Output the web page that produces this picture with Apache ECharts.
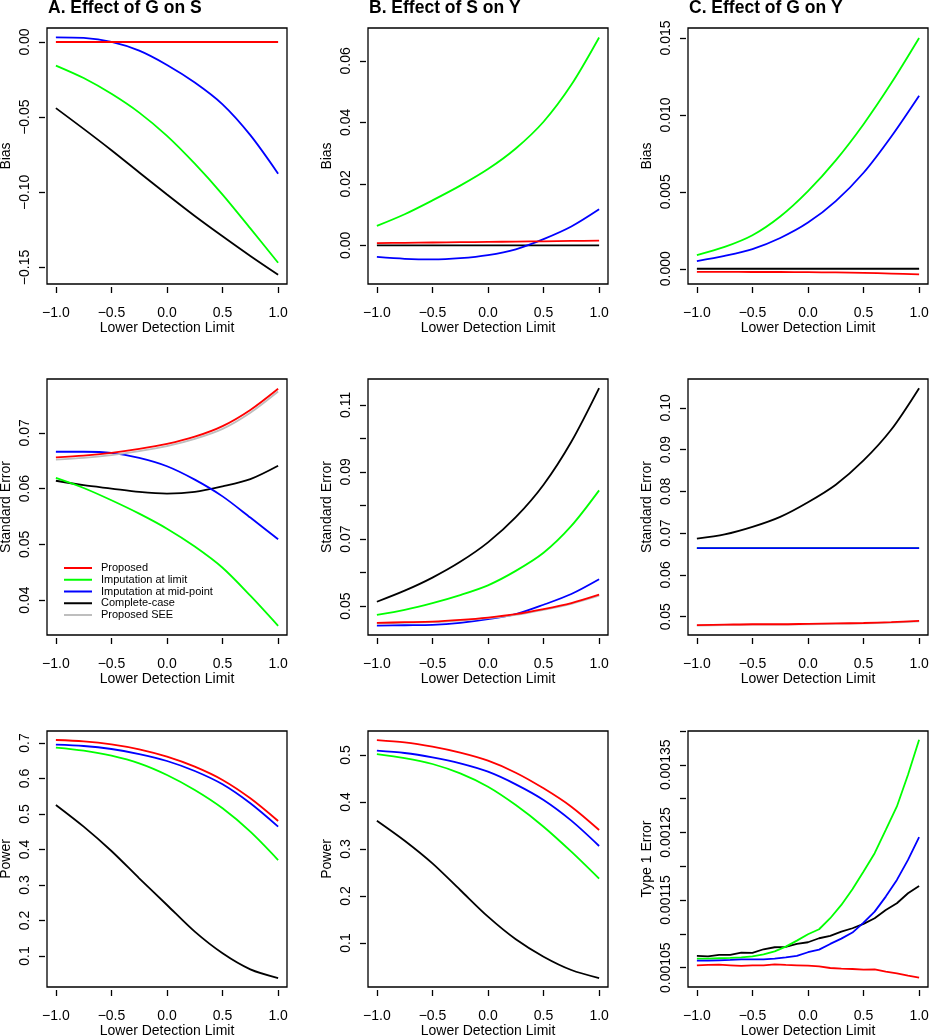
<!DOCTYPE html>
<html>
<head>
<meta charset="utf-8">
<script src="https://cdn.jsdelivr.net/npm/echarts@6/dist/echarts.min.js"></script>
<style>
html,body{margin:0;padding:0;background:#fff;}
#c{width:929px;height:1035px;}
</style>
</head>
<body>
<div id="c"></div>
<script>
// ---------------- data ----------------
const xs = [-1, -0.75, -0.5, -0.25, 0, 0.25, 0.5, 0.75, 1];
const xs21 = [-1.0, -0.9, -0.8, -0.7, -0.6, -0.5, -0.4, -0.3, -0.2, -0.1, 0.0, 0.1, 0.2, 0.3, 0.4, 0.5, 0.6, 0.7, 0.8, 0.9, 1.0];
const xTicks = [-1, -0.5, 0, 0.5, 1];
const xTickLabels = ['\u22121.0', '\u22120.5', '0.0', '0.5', '1.0'];

const seriesNames = ['Proposed', 'Imputation at limit', 'Imputation at mid-point', 'Complete-case', 'Proposed SEE'];
const panelTitles = ['A. Effect of G on S', 'B. Effect of S on Y', 'C. Effect of G on Y'];

// Row 1: Bias
const biasGS_proposed = [0, 0, 0, 0, 0, 0, 0, 0, 0];
const biasGS_limit    = [-0.0157, -0.0240, -0.0345, -0.0470, -0.0625, -0.0810, -0.1015, -0.1240, -0.1469];
const biasGS_mid      = [0.0031, 0.0027, 0.0000, -0.0058, -0.0153, -0.0270, -0.0415, -0.0620, -0.0876];
const biasGS_cc       = [-0.0440, -0.0578, -0.0720, -0.0868, -0.1015, -0.1158, -0.1293, -0.1424, -0.1549];

const biasSY_proposed = [0.0007, 0.0008, 0.0009, 0.0010, 0.0011, 0.0012, 0.0013, 0.0014, 0.0015];
const biasSY_limit    = [0.0063, 0.0101, 0.0146, 0.0194, 0.0248, 0.0315, 0.0402, 0.0522, 0.0676];
const biasSY_mid      = [-0.0038, -0.0044, -0.0046, -0.0042, -0.0032, -0.0013, 0.0020, 0.0061, 0.0117];
const biasSY_cc       = [0, 0, 0, 0, 0, 0, 0, 0, 0];

const biasGY_proposed = [-0.00020, -0.00020, -0.00021, -0.00021, -0.00022, -0.00024, -0.00027, -0.00031, -0.00036];
const biasGY_limit    = [0.00089, 0.00142, 0.00218, 0.00340, 0.00505, 0.00705, 0.00940, 0.01207, 0.01500];
const biasGY_mid      = [0.00050, 0.00084, 0.00128, 0.00200, 0.00300, 0.00440, 0.00624, 0.00860, 0.01125];
const biasGY_cc       = [0, 0, 0, 0, 0, 0, 0, 0, 0];

// Row 2: Standard error
const seGS_proposed = [0.0656, 0.0659, 0.0664, 0.0671, 0.0680, 0.0693, 0.0712, 0.0741, 0.0779];
const seGS_limit    = [0.0619, 0.0601, 0.0579, 0.0555, 0.0528, 0.0496, 0.0458, 0.0408, 0.0354];
const seGS_mid      = [0.0666, 0.0666, 0.0664, 0.0655, 0.0640, 0.0616, 0.0586, 0.0548, 0.0509];
const seGS_cc       = [0.0614, 0.0606, 0.0600, 0.0594, 0.0591, 0.0594, 0.0604, 0.0617, 0.0641];
const seGS_see      = [0.0652, 0.0655, 0.0660, 0.0667, 0.0676, 0.0689, 0.0707, 0.0736, 0.0774];

const seSY_proposed = [0.0450, 0.0452, 0.0454, 0.0459, 0.0466, 0.0476, 0.0491, 0.0509, 0.0534];
const seSY_limit    = [0.0474, 0.0489, 0.0509, 0.0533, 0.0562, 0.0605, 0.0659, 0.0739, 0.0845];
const seSY_mid      = [0.0442, 0.0443, 0.0444, 0.0450, 0.0461, 0.0476, 0.0504, 0.0536, 0.0580];
const seSY_cc       = [0.0513, 0.0546, 0.0585, 0.0632, 0.0690, 0.0765, 0.0862, 0.0990, 0.1150];
const seSY_see      = [0.0448, 0.0450, 0.0452, 0.0457, 0.0464, 0.0474, 0.0489, 0.0507, 0.0531];

const seGY_proposed = [0.0480, 0.0481, 0.0482, 0.0482, 0.0483, 0.0484, 0.0485, 0.0487, 0.0490];
const seGY_limit    = [0.0664, 0.0664, 0.0664, 0.0664, 0.0664, 0.0664, 0.0664, 0.0664, 0.0664];
const seGY_mid      = [0.0664, 0.0664, 0.0664, 0.0664, 0.0664, 0.0664, 0.0664, 0.0664, 0.0664];
const seGY_cc       = [0.0687, 0.0697, 0.0715, 0.0739, 0.0774, 0.0816, 0.0874, 0.0948, 0.1047];
const seGY_see      = [0.0479, 0.0480, 0.0481, 0.0481, 0.0482, 0.0483, 0.0484, 0.0486, 0.0489];

// Row 3: Power / Type 1 error
const powGS_proposed = [0.7085, 0.7047, 0.6962, 0.6822, 0.6615, 0.6333, 0.5958, 0.5441, 0.4803];
const powGS_limit    = [0.6869, 0.6784, 0.6643, 0.6427, 0.6099, 0.5676, 0.5160, 0.4502, 0.3704];
const powGS_mid      = [0.6953, 0.6916, 0.6831, 0.6690, 0.6493, 0.6211, 0.5836, 0.5301, 0.4643];
const powGS_cc       = [0.5254, 0.4643, 0.3958, 0.3189, 0.2437, 0.1685, 0.1076, 0.0624, 0.0380];

const powSY_proposed = [0.5319, 0.5270, 0.5177, 0.5050, 0.4879, 0.4624, 0.4291, 0.3900, 0.3404];
const powSY_limit    = [0.5021, 0.4936, 0.4809, 0.4610, 0.4326, 0.3936, 0.3475, 0.2943, 0.2369];
const powSY_mid      = [0.5092, 0.5043, 0.4950, 0.4823, 0.4645, 0.4376, 0.4043, 0.3603, 0.3064];
const powSY_cc       = [0.3603, 0.3177, 0.2695, 0.2128, 0.1560, 0.1079, 0.0709, 0.0426, 0.0255];

const t1GY_proposed = [0.0010535, 0.0010540, 0.0010544, 0.0010535, 0.0010525, 0.0010535, 0.0010535, 0.0010549, 0.0010540, 0.0010535, 0.0010530, 0.0010520, 0.0010495, 0.0010485, 0.0010480, 0.0010470, 0.0010475, 0.0010441, 0.0010416, 0.0010382, 0.0010352];
const t1GY_limit    = [0.0010634, 0.0010634, 0.0010639, 0.0010644, 0.0010653, 0.0010668, 0.0010698, 0.0010742, 0.0010811, 0.0010900, 0.0010994, 0.0011068, 0.0011231, 0.0011428, 0.0011660, 0.0011921, 0.0012193, 0.0012538, 0.0012884, 0.0013352, 0.0013871];
const t1GY_mid      = [0.0010604, 0.0010604, 0.0010609, 0.0010614, 0.0010624, 0.0010624, 0.0010624, 0.0010634, 0.0010653, 0.0010673, 0.0010728, 0.0010767, 0.0010851, 0.0010930, 0.0011019, 0.0011167, 0.0011329, 0.0011551, 0.0011798, 0.0012094, 0.0012430];
const t1GY_cc       = [0.0010673, 0.0010668, 0.0010688, 0.0010688, 0.0010722, 0.0010718, 0.0010772, 0.0010802, 0.0010806, 0.0010851, 0.0010876, 0.0010935, 0.0010969, 0.0011033, 0.0011083, 0.0011147, 0.0011231, 0.0011354, 0.0011453, 0.0011601, 0.0011709];

// y tick values and labels
const yTicksBiasGS = [-0.15, -0.10, -0.05, 0.00];
const yLabelsBiasGS = ['\u22120.15', '\u22120.10', '\u22120.05', '0.00'];
const yTicksBiasSY = [0.00, 0.02, 0.04, 0.06];
const yLabelsBiasSY = ['0.00', '0.02', '0.04', '0.06'];
const yTicksBiasGY = [0.000, 0.005, 0.010, 0.015];
const yLabelsBiasGY = ['0.000', '0.005', '0.010', '0.015'];
const yTicksSeGS = [0.04, 0.05, 0.06, 0.07];
const yLabelsSeGS = ['0.04', '0.05', '0.06', '0.07'];
const yTicksSeSY = [0.05, 0.06, 0.07, 0.08, 0.09, 0.10, 0.11];
const yLabelsSeSY = ['0.05', '', '0.07', '', '0.09', '', '0.11'];
const yTicksSeGY = [0.05, 0.06, 0.07, 0.08, 0.09, 0.10];
const yLabelsSeGY = ['0.05', '0.06', '0.07', '0.08', '0.09', '0.10'];
const yTicksPowGS = [0.1, 0.2, 0.3, 0.4, 0.5, 0.6, 0.7];
const yLabelsPowGS = ['0.1', '0.2', '0.3', '0.4', '0.5', '0.6', '0.7'];
const yTicksPowSY = [0.1, 0.2, 0.3, 0.4, 0.5];
const yLabelsPowSY = ['0.1', '0.2', '0.3', '0.4', '0.5'];
const yTicksT1GY = [0.00105, 0.00110, 0.00115, 0.00120, 0.00125, 0.00130, 0.00135, 0.00140];
const yLabelsT1GY = ['0.00105', '', '0.00115', '', '0.00125', '', '0.00135', ''];

// ---------------- layout / style ----------------
const FONT = '"Liberation Sans", Arial, Helvetica, sans-serif';
const COLORS = {'Proposed': '#FF0000', 'Imputation at limit': '#00FF00', 'Imputation at mid-point': '#0000FF', 'Complete-case': '#000000', 'Proposed SEE': '#BEBEBE'};
const DRAW_ORDER = ['Complete-case', 'Imputation at limit', 'Imputation at mid-point', 'Proposed SEE', 'Proposed'];
const colLeft = [47, 368, 688];
const rowTop = [28, 379, 731];
const BOX_W = 240, BOX_H = 256;

const panels = [
  {r:0,c:0, x:xs, yName:'Bias', yMin:-0.1610, yMax:0.0093, ticks:yTicksBiasGS, labels:yLabelsBiasGS,
   s:{'Proposed':biasGS_proposed,'Imputation at limit':biasGS_limit,'Imputation at mid-point':biasGS_mid,'Complete-case':biasGS_cc}},
  {r:0,c:1, x:xs, yName:'Bias', yMin:-0.0126, yMax:0.0707, ticks:yTicksBiasSY, labels:yLabelsBiasSY,
   s:{'Proposed':biasSY_proposed,'Imputation at limit':biasSY_limit,'Imputation at mid-point':biasSY_mid,'Complete-case':biasSY_cc}},
  {r:0,c:2, x:xs, yName:'Bias', yMin:-0.00099, yMax:0.01565, ticks:yTicksBiasGY, labels:yLabelsBiasGY,
   s:{'Proposed':biasGY_proposed,'Imputation at limit':biasGY_limit,'Imputation at mid-point':biasGY_mid,'Complete-case':biasGY_cc}},
  {r:1,c:0, x:xs, yName:'Standard Error', yMin:0.03375, yMax:0.07964, ticks:yTicksSeGS, labels:yLabelsSeGS,
   s:{'Proposed':seGS_proposed,'Imputation at limit':seGS_limit,'Imputation at mid-point':seGS_mid,'Complete-case':seGS_cc,'Proposed SEE':seGS_see}},
  {r:1,c:1, x:xs, yName:'Standard Error', yMin:0.04139, yMax:0.1177, ticks:yTicksSeSY, labels:yLabelsSeSY,
   s:{'Proposed':seSY_proposed,'Imputation at limit':seSY_limit,'Imputation at mid-point':seSY_mid,'Complete-case':seSY_cc,'Proposed SEE':seSY_see}},
  {r:1,c:2, x:xs, yName:'Standard Error', yMin:0.04563, yMax:0.1069, ticks:yTicksSeGY, labels:yLabelsSeGY,
   s:{'Proposed':seGY_proposed,'Imputation at limit':seGY_limit,'Imputation at mid-point':seGY_mid,'Complete-case':seGY_cc,'Proposed SEE':seGY_see}},
  {r:2,c:0, x:xs, yName:'Power', yMin:0.0127, yMax:0.7338, ticks:yTicksPowGS, labels:yLabelsPowGS,
   s:{'Proposed':powGS_proposed,'Imputation at limit':powGS_limit,'Imputation at mid-point':powGS_mid,'Complete-case':powGS_cc}},
  {r:2,c:1, x:xs, yName:'Power', yMin:0.0064, yMax:0.5511, ticks:yTicksPowSY, labels:yLabelsPowSY,
   s:{'Proposed':powSY_proposed,'Imputation at limit':powSY_limit,'Imputation at mid-point':powSY_mid,'Complete-case':powSY_cc}},
  {r:2,c:2, x:xs21, yName:'Type 1 Error', yMin:0.0010214, yMax:0.00140, ticks:yTicksT1GY, labels:yLabelsT1GY, linear:true,
   s:{'Proposed':t1GY_proposed,'Imputation at limit':t1GY_limit,'Imputation at mid-point':t1GY_mid,'Complete-case':t1GY_cc}}
];

const grid = [], xAxis = [], yAxis = [], series = [];
const labelFor = (ticks, labels) => (v) => {
  let best = 0, bd = Infinity;
  ticks.forEach((t, i) => { const d = Math.abs(t - v); if (d < bd) { bd = d; best = i; } });
  return labels[best];
};

panels.forEach((p, i) => {
  grid.push({left: colLeft[p.c], top: rowTop[p.r], width: BOX_W, height: BOX_H,
    show: true, borderColor: '#000', borderWidth: 1.3, backgroundColor: 'transparent',
    containLabel: false, outerBoundsMode: 'none'});
  xAxis.push({type: 'value', gridIndex: i, min: -1.08, max: 1.08, offset: 3, position: 'bottom',
    name: 'Lower Detection Limit', nameLocation: 'middle', nameGap: 33,
    nameTextStyle: {fontFamily: FONT, fontSize: 14, color: '#000'},
    axisLine: {show: true, onZero: false, lineStyle: {color: 'rgba(0,0,0,0)', width: 0}},
    axisTick: {show: true, inside: false, length: 6, customValues: xTicks, lineStyle: {color: '#000', width: 1.3}},
    axisLabel: {show: true, margin: 19, customValues: xTicks, formatter: labelFor(xTicks, xTickLabels),
      fontFamily: FONT, fontSize: 14, color: '#000'},
    splitLine: {show: false}});
  yAxis.push({type: 'value', gridIndex: i, min: p.yMin, max: p.yMax, offset: 2, position: 'left',
    name: p.yName, nameLocation: 'middle', nameGap: 32,
    nameTextStyle: {fontFamily: FONT, fontSize: 14, color: '#000'},
    axisLine: {show: true, onZero: false, lineStyle: {color: 'rgba(0,0,0,0)', width: 0}},
    axisTick: {show: true, inside: false, length: 6, customValues: p.ticks, lineStyle: {color: '#000', width: 1.3}},
    axisLabel: {show: true, rotate: 90, margin: 13, customValues: p.ticks, formatter: labelFor(p.ticks, p.labels),
      fontFamily: FONT, fontSize: 14, color: '#000'},
    splitLine: {show: false}});
  DRAW_ORDER.forEach(name => {
    const vals = p.s[name];
    if (!vals) return;
    series.push({type: 'line', name: name, xAxisIndex: i, yAxisIndex: i,
      data: p.x.map((xv, k) => [xv, vals[k]]),
      smooth: p.linear ? false : 0.3, symbol: 'none', showSymbol: false, silent: true,
      lineStyle: {color: COLORS[name], width: 1.8}, itemStyle: {color: COLORS[name]},
      animation: false});
  });
});

const titles = panelTitles.map((t, c) => ({text: t, left: colLeft[c] + 1, top: 0, padding: 0,
  textStyle: {fontFamily: FONT, fontSize: 17.5, fontWeight: 'bold', color: '#000', lineHeight: 17}}));

const chart = echarts.init(document.getElementById('c'), null, {renderer: 'canvas'});
chart.setOption({
  animation: false,
  backgroundColor: '#fff',
  title: titles,
  legend: {show: true, left: 64, top: 562.5, orient: 'vertical', padding: 0,
    icon: 'rect', itemWidth: 28, itemHeight: 2, itemGap: 0.75, selectedMode: false,
    data: seriesNames,
    textStyle: {fontFamily: FONT, fontSize: 11, lineHeight: 11, color: '#000', padding: [0, 0, 0, 4]}},
  grid: grid, xAxis: xAxis, yAxis: yAxis, series: series
});
</script>
</body>
</html>
